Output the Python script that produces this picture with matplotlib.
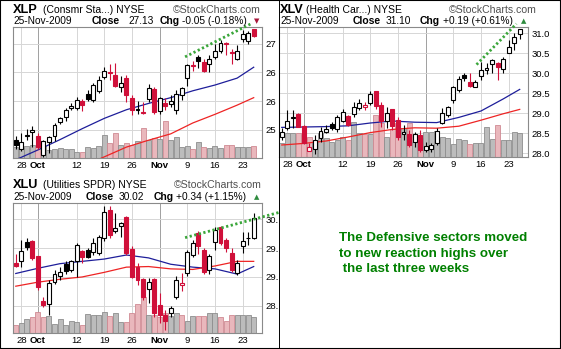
import numpy as np
import pandas as pd
import matplotlib
matplotlib.use("Agg")
import matplotlib.pyplot as plt
from matplotlib.patches import Rectangle
from matplotlib.lines import Line2D

plt.rcParams['font.family'] = ['Liberation Sans', 'DejaVu Sans']

# trading days shown in every panel
dates = pd.bdate_range('2009-09-25', '2009-11-25')
tick_dates = ['2009-09-28', '2009-10-01', '2009-10-12', '2009-10-19', '2009-10-26',
              '2009-11-02', '2009-11-09', '2009-11-16', '2009-11-23']
tick_labels = ['28', 'Oct', '12', '19', '26', 'Nov', '9', '16', '23']
month_labels = ['Oct', 'Nov']

ma_idx = [0, 4, 8, 12, 16, 20, 24, 28, 32, 36, 40, 43]

# XLP (Consumer Staples)
xlp_prev = 25.20
xlp_open = [25.32, 25.17, 25.39, 25.47, 25.39, 25.07, 25.28, 25.40, 25.63, 25.72,
            25.88, 25.88, 26.01, 26.13, 26.02, 26.17, 26.42, 26.51, 26.46, 26.24,
            26.40, 26.05, 25.85, 25.81, 26.04, 26.21, 25.82, 25.96, 25.95, 25.84,
            26.11, 26.40, 26.63, 26.77, 26.68, 26.65, 26.77, 26.87, 27.01, 26.85,
            26.74, 27.08, 27.04, 27.25]
xlp_high = [25.39, 25.44, 25.52, 25.56, 25.44, 25.33, 25.40, 25.62, 25.72, 25.88,
            25.97, 26.07, 26.03, 26.20, 26.32, 26.43, 26.60, 26.65, 26.66, 26.44,
            26.45, 26.10, 26.00, 25.99, 26.30, 26.24, 26.08, 26.06, 26.10, 26.19,
            26.25, 26.64, 26.69, 26.80, 26.74, 26.80, 27.00, 27.06, 27.03, 26.90,
            26.97, 27.23, 27.22, 27.26]
xlp_low = [25.17, 25.14, 25.32, 25.20, 25.17, 25.02, 25.10, 25.30, 25.60, 25.65,
           25.85, 25.85, 25.82, 26.00, 25.98, 26.15, 26.38, 26.36, 26.25, 26.16,
           25.99, 25.75, 25.78, 25.77, 25.98, 25.78, 25.78, 25.84, 25.89, 25.77,
           26.02, 26.27, 26.52, 26.57, 26.51, 26.51, 26.74, 26.83, 26.80, 26.65,
           26.71, 27.03, 27.00, 27.11]
xlp_close = [25.23, 25.29, 25.41, 25.49, 25.21, 25.31, 25.37, 25.59, 25.70, 25.85,
             25.92, 26.02, 25.94, 26.03, 26.28, 26.36, 26.52, 26.49, 26.27, 26.32,
             26.10, 25.84, 25.86, 25.79, 26.23, 25.81, 26.05, 25.91, 26.01, 26.13,
             26.22, 26.62, 26.61, 26.69, 26.52, 26.73, 26.88, 27.01, 27.00, 26.84,
             26.87, 27.16, 27.18, 27.13]
xlp_vol = [33, 30, 35, 38, 33, 35, 25, 28, 30, 28, 26, 18, 18, 33, 31, 36, 68, 45,
           75, 38, 46, 40, 50, 91, 53, 60, 58, 111, 53, 63, 33, 36, 28, 48, 33, 30,
           36, 30, 40, 40, 33, 33, 33, 35]
xlp_ma_short = [24.98, 25.15, 25.33, 25.52, 25.70, 25.85, 25.96, 26.06, 26.18, 26.28, 26.40, 26.59]
xlp_ma_long = [np.nan, np.nan, np.nan, 24.86, 25.03, 25.20, 25.32, 25.43, 25.62, 25.77, 25.93, 26.06]
xlp_trend_x = [30.6, 42.6]
xlp_trend_y = [26.77, 27.35]

# XLV (Health Care)
xlv_prev = 28.40
xlv_open = [28.42, 28.63, 28.89, 28.98, 28.68, 28.07, 28.10, 28.39, 28.54, 28.73,
            28.60, 28.82, 28.93, 28.98, 29.13, 29.17, 29.25, 29.57, 29.21, 28.82,
            29.10, 28.83, 28.48, 28.48, 28.28, 28.46, 28.08, 28.11, 28.25, 28.77,
            28.96, 29.33, 29.58, 29.96, 29.79, 29.67, 29.93, 30.08, 30.23, 30.25,
            30.12, 30.52, 30.75, 30.98]
xlv_high = [28.63, 29.08, 29.08, 29.00, 28.70, 28.25, 28.45, 28.67, 28.71, 28.79,
            28.96, 29.10, 28.95, 29.29, 29.35, 29.29, 29.57, 29.57, 29.29, 29.15,
            29.10, 28.92, 28.71, 28.58, 28.54, 28.58, 28.29, 28.25, 28.63, 29.13,
            29.18, 29.68, 29.93, 30.00, 30.00, 29.83, 30.29, 30.25, 30.35, 30.29,
            30.42, 30.83, 31.00, 31.10]
xlv_low = [28.33, 28.58, 28.63, 28.65, 28.23, 28.05, 27.98, 28.29, 28.50, 28.58,
           28.54, 28.79, 28.69, 28.92, 29.08, 29.08, 29.21, 29.12, 28.67, 28.63,
           28.58, 28.33, 28.33, 28.17, 28.17, 28.04, 28.04, 28.04, 28.21, 28.73,
           28.92, 29.27, 29.54, 29.80, 29.65, 29.65, 29.83, 29.98, 30.02, 29.83,
           30.02, 30.50, 30.58, 30.85]
xlv_close = [28.54, 28.82, 28.91, 28.67, 28.25, 28.17, 28.33, 28.56, 28.61, 28.63,
             28.90, 29.03, 28.71, 29.17, 29.25, 29.22, 29.48, 29.18, 28.82, 29.00,
             28.68, 28.42, 28.54, 28.21, 28.48, 28.08, 28.18, 28.20, 28.56, 29.02,
             29.17, 29.65, 29.85, 29.88, 29.68, 29.79, 30.08, 30.14, 30.33, 30.15,
             30.37, 30.65, 30.92, 31.10]
xlv_vol = [41, 71, 73, 73, 66, 61, 46, 71, 56, 46, 51, 61, 51, 106, 71, 69, 69, 126,
           101, 61, 83, 101, 86, 101, 46, 56, 76, 76, 77, 60, 57, 40, 55, 50, 38, 43,
           43, 90, 55, 97, 50, 50, 75, 72]
xlv_ma_short = [28.65, 28.66, 28.67, 28.69, 28.76, 28.81, 28.78, 28.77, 28.90, 29.06, 29.36, 29.60]
xlv_ma_long = [28.21, 28.25, 28.31, 28.41, 28.52, 28.60, 28.64, 28.63, 28.68, 28.83, 28.99, 29.10]
xlv_trend_x = [35.2, 42.4]
xlv_trend_y = [30.22, 31.24]

# XLU (Utilities)
xlu_prev = 29.30
xlu_open = [29.24, 29.28, 29.61, 29.63, 29.36, 28.58, 28.53, 28.92, 29.01, 29.22,
            29.12, 29.27, 29.45, 29.47, 29.44, 29.41, 29.67, 30.16, 29.79, 29.88,
            30.03, 29.48, 29.18, 28.96, 28.79, 28.96, 28.51, 28.34, 28.37, 28.65,
            28.86, 29.06, 29.38, 29.76, 29.47, 29.12, 29.60, 29.87, 29.64, 29.41,
            29.06, 29.53, 29.67, 29.67]
xlu_high = [29.39, 29.64, 29.67, 29.64, 29.36, 28.66, 28.95, 29.12, 29.18, 29.27,
            29.30, 29.58, 29.46, 29.50, 29.67, 29.73, 30.22, 30.22, 30.10, 29.95,
            30.06, 29.53, 29.24, 28.98, 28.98, 28.98, 28.72, 28.43, 28.49, 29.01,
            29.06, 29.47, 29.64, 29.79, 29.50, 29.40, 29.87, 29.88, 29.67, 29.50,
            29.30, 29.78, 29.78, 30.10]
xlu_low = [29.17, 29.17, 29.47, 29.30, 28.77, 28.48, 28.34, 28.87, 28.95, 29.05,
           29.08, 29.00, 29.24, 29.32, 29.38, 29.38, 29.62, 29.68, 29.76, 29.70,
           29.38, 28.98, 28.86, 28.60, 28.55, 28.31, 28.20, 28.08, 28.31, 28.61,
           28.75, 29.02, 29.35, 29.40, 29.05, 29.05, 29.47, 29.55, 29.44, 29.09,
           29.04, 29.42, 29.56, 29.66]
xlu_close = [29.19, 29.45, 29.51, 29.32, 28.82, 28.51, 28.89, 29.05, 29.08, 29.10,
             29.27, 29.55, 29.34, 29.35, 29.58, 29.69, 30.12, 29.72, 29.84, 29.93,
             29.42, 29.00, 28.95, 28.66, 28.92, 28.37, 28.34, 28.23, 28.46, 28.95,
             28.90, 29.44, 29.58, 29.53, 29.09, 29.36, 29.82, 29.58, 29.50, 29.12,
             29.25, 29.62, 29.68, 30.02]
xlu_vol = [24, 29, 41, 49, 64, 49, 51, 27, 41, 24, 37, 32, 24, 56, 54, 54, 62, 52,
           59, 34, 34, 60, 88, 108, 54, 54, 49, 59, 50, 59, 54, 35, 51, 51, 51, 61,
           59, 49, 36, 54, 54, 54, 54, 49]
xlu_ma_short = [29.06, 29.15, 29.23, 29.27, 29.31, 29.38, 29.33, 29.22, 29.17, 29.14, 29.05, 29.18]
xlu_ma_long = [28.84, 28.91, 28.96, 29.00, 29.08, 29.17, 29.18, 29.14, 29.13, 29.19, 29.27, 29.27]
xlu_trend_x = [30.6, 47.7]
xlu_trend_y = [29.68, 30.12]

W, H = 561, 349
RED = '#d0103a'
GREEN_DOTS = '#3aa63a'

fig = plt.figure(figsize=(W / 100, H / 100), dpi=100)
fig.patch.set_facecolor('white')


def fx(x):
    return x / W


def fy(y):
    return 1 - y / H


def ftext(x, y, s, **kw):
    kw.setdefault('va', 'baseline')
    kw.setdefault('size', 7.3)
    return fig.text(fx(x), fy(y), s, **kw)


tick_pos = [dates.get_loc(pd.Timestamp(d)) for d in tick_dates]


def panel(box, o, h, l, c, prev, vol, vol_full, ma_s, ma_l, ylim, yticks, ylabels, tr_x, tr_y):
    x0, y0, x1, y1 = box
    ax = fig.add_axes([fx(x0), fy(y1), (x1 - x0) / W, (y1 - y0) / H])
    n = len(c)
    x = np.arange(n)
    o, h, l, c = map(np.asarray, (o, h, l, c))
    down = c < np.r_[prev, c[:-1]]

    # volume bars, scaled to the lower part of the price pane
    ax.bar(x, np.asarray(vol) / vol_full, width=0.9, bottom=0,
           color=np.where(down, '#e9b7bc', '#bcbcbc'),
           edgecolor=np.where(down, '#d08a93', '#8e8e8e'), linewidth=0.6,
           transform=ax.get_xaxis_transform(), zorder=1)

    ax.plot(ma_idx, ma_s, color='#1e1e9a', lw=0.9, zorder=2)
    ax.plot(ma_idx, ma_l, color='#ee2424', lw=0.9, zorder=2)

    for i in range(n):
        col = RED if down[i] else 'black'
        ax.vlines(i, l[i], h[i], color=col, lw=0.8, zorder=3)
        lo, hi = min(o[i], c[i]), max(o[i], c[i])
        face = col if c[i] < o[i] else 'white'
        ax.add_patch(Rectangle((i - 0.36, lo), 0.72, max(hi - lo, 0.004),
                               facecolor=face, edgecolor=col, lw=0.8, zorder=4))

    ax.plot(tr_x, tr_y, color=GREEN_DOTS, lw=2.0, ls=(0, (0.8, 0.9)),
            clip_on=False, zorder=6)

    ax.set_xlim(-0.5, 44.5)
    ax.set_ylim(*ylim)
    ax.set_xticks(tick_pos)
    ax.set_xticklabels(tick_labels)
    ax.set_yticks(yticks)
    ax.set_yticklabels(ylabels)
    ax.yaxis.tick_right()
    ax.tick_params(length=0, labelsize=6.8, pad=2.5, colors='black')
    ax.grid(True, color='#d6d6d6', lw=0.7)
    ax.set_axisbelow(True)
    for t, lab in zip(ax.xaxis.get_major_ticks(), tick_labels):
        if lab in month_labels:
            t.gridline.set_color('#a0a0a0')
            t.label1.set_fontweight('bold')
    for sp in ax.spines.values():
        sp.set_color('#8a8a8a')
        sp.set_linewidth(0.8)
    return ax


panel((13, 27, 262, 158), xlp_open, xlp_high, xlp_low, xlp_close, xlp_prev,
      xlp_vol, 393, xlp_ma_short, xlp_ma_long, (25.01, 27.29),
      [25.5, 26.0, 26.5, 27.0], ['25', '26', '26', '27'], xlp_trend_x, xlp_trend_y)
panel((279, 27, 528, 157), xlv_open, xlv_high, xlv_low, xlv_close, xlv_prev,
      xlv_vol, 390, xlv_ma_short, xlv_ma_long, (27.91, 31.16),
      [28.0, 28.5, 29.0, 29.5, 30.0, 30.5, 31.0],
      ['28.0', '28.5', '29.0', '29.5', '30.0', '30.5', '31.0'], xlv_trend_x, xlv_trend_y)
panel((13, 203, 262, 333), xlu_open, xlu_high, xlu_low, xlu_close, xlu_prev,
      xlu_vol, 388, xlu_ma_short, xlu_ma_long, (28.03, 30.28),
      [28.5, 29.0, 29.5, 30.0], ['28.', '29.', '29.', '30.'], xlu_trend_x, xlu_trend_y)

fig.add_artist(Line2D([fx(279), fx(279)], [0, 1], color='black', lw=0.7, zorder=1))
fig.add_artist(Rectangle((0, 0), 1, 1, transform=fig.transFigure, fill=False,
                         edgecolor='black', lw=1.5))

# panel headers
heads = [
    (13, 13, 0, 'XLP', '(Consmr Sta...) NYSE', 43, 261, 92, 'Close', 128, '27.13', 160, 182,
     '-0.05 (-0.18%)', 257, '▼', '#a8163a'),
    (280, 280, 0, 'XLV', '(Health Car...) NYSE', 306, 537, 353, 'Close', 386, '31.10', 420, 443,
     '+0.19 (+0.61%)', 524, '▲', '#2e8b3e'),
    (13, 13, 175.6, 'XLU', '(Utilities SPDR) NYSE', 43, 262, 86, 'Close', 119, '30.02', 154, 176,
     '+0.34 (+1.15%)', 257, '▲', '#2e8b3e'),
]
for (xs, xd, dy, sym, name, xn, xr, xc, cl, xv, val, xg, xch, chg, xt, tri, tcol) in heads:
    ftext(xs, 12.7 + dy, sym, size=9.2, weight='bold')
    ftext(xn, 12.7 + dy, name, size=7.5)
    ftext(xr, 12.7 + dy, '©StockCharts.com', size=7.6, color='#505050', ha='right')
    ftext(xd, 24.3 + dy, '25-Nov-2009', size=7.3)
    ftext(xc, 24.3 + dy, cl, size=7.5, weight='bold')
    ftext(xv, 24.3 + dy, val, size=7.3)
    ftext(xg, 24.3 + dy, 'Chg', size=7.5, weight='bold')
    ftext(xch, 24.3 + dy, chg, size=7.3)
    ftext(xt, 23.5 + dy, tri, size=5, color=tcol, ha='center', family=['DejaVu Sans'])

note_font = dict(size=9.6, weight='bold', color='#008000')
ftext(339, 241, 'The Defensive sectors moved', **note_font)
ftext(339, 257.5, 'to new reaction highs over', **note_font)
ftext(339, 272.5, ' the last three weeks', **note_font)

fig.savefig('out.png', dpi=100)
